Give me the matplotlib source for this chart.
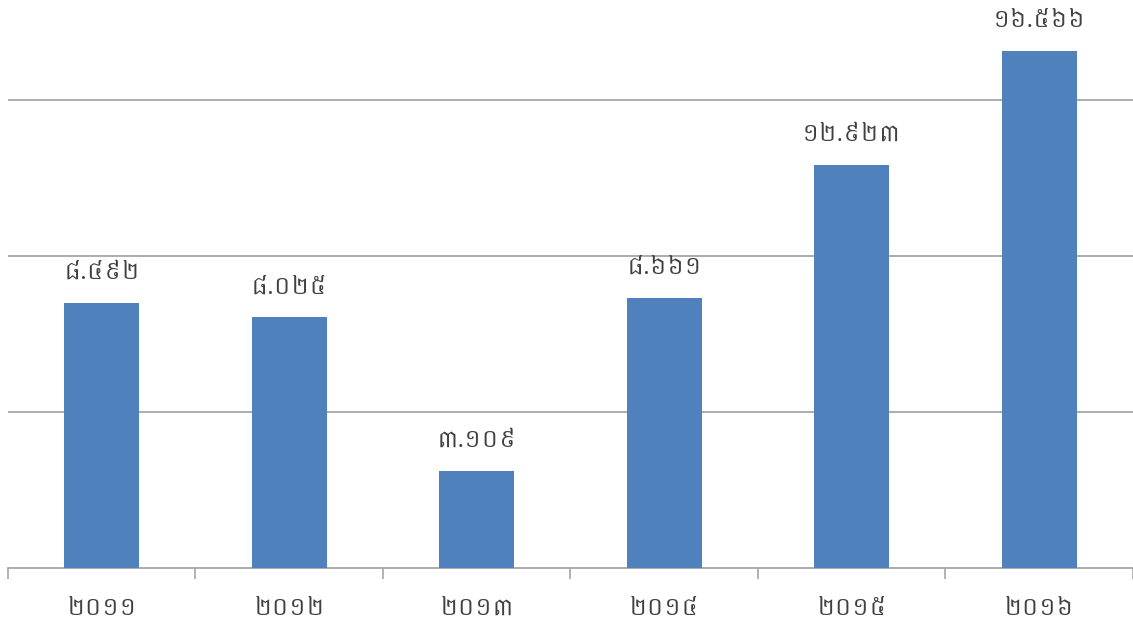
import matplotlib
matplotlib.use('Agg')
import matplotlib.pyplot as plt
import numpy as np

# Chart data (Khmer numerals kept as text)
years = ['២០១១', '២០១២', '២០១៣', '២០១៤', '២០១៥', '២០១៦']
values = [8.492, 8.025, 3.109, 8.661, 12.923, 16.566]
value_labels = ['៨.៤៩២', '៨.០២៥', '៣.១០៩', '៨.៦៦១', '១២.៩២៣', '១៦.៥៦៦']

plt.rcParams['font.family'] = ['Khmer', 'Battambang', 'DejaVu Sans']

fig = plt.figure(figsize=(11.33, 6.22), dpi=100)
ax = fig.add_axes([0.007, 0.087, 0.993, 0.913])

x = np.arange(len(years))
bars = ax.bar(x, values, width=0.4, color='#4F81BD', zorder=3)

for b, lab in zip(bars, value_labels):
    ax.text(b.get_x() + b.get_width() / 2, b.get_height() + 0.6, lab,
            ha='center', va='bottom', fontsize=16.5, color='#404040')

ax.set_xlim(-0.5, 5.5)
ax.set_ylim(0, 18.2)
ax.set_yticks([5, 10, 15])
ax.yaxis.grid(True, color='#a6a6a6', linewidth=1.3, zorder=0)
ax.tick_params(axis='y', left=False, labelleft=False)

# ticks between categories, labels under the bars
ax.set_xticks(np.arange(-0.5, 6, 1))
ax.set_xticklabels([])
ax.set_xticks(x, minor=True)
ax.set_xticklabels(years, minor=True, fontsize=16.5, color='#404040')
ax.tick_params(axis='x', which='major', length=8, color='#a6a6a6', width=1.2)
ax.tick_params(axis='x', which='minor', length=0, pad=21)

for s in ['top', 'right', 'left']:
    ax.spines[s].set_visible(False)
ax.spines['bottom'].set_color('#a6a6a6')
ax.spines['bottom'].set_linewidth(1.3)

fig.savefig('out.png', dpi=100)
